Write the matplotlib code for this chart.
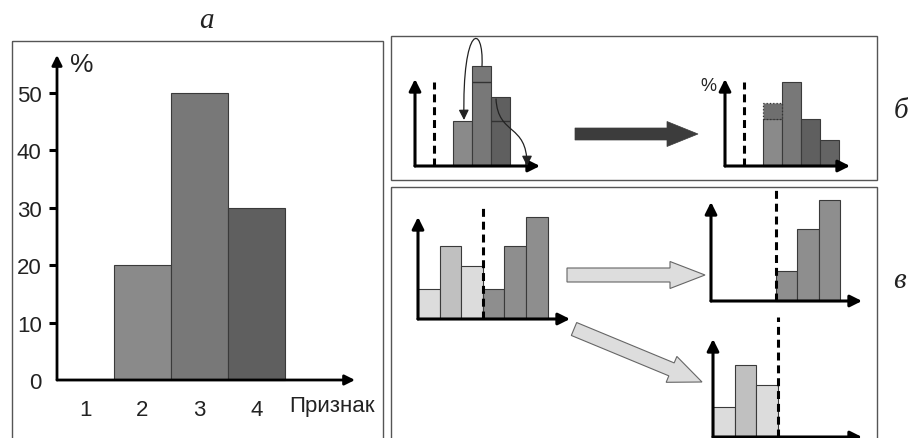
import matplotlib
matplotlib.use('Agg')
import matplotlib.pyplot as plt
import matplotlib.patches as mpatches
from matplotlib.path import Path

plt.rcParams['font.family'] = ['Liberation Sans', 'DejaVu Sans']

# panel a: feature histogram, %
a_cats = [1, 2, 3, 4]
a_vals = [0, 20, 50, 30]
a_colors = ['#8a8a8a', '#8a8a8a', '#787878', '#5f5f5f']
a_yticks = [0, 10, 20, 30, 40, 50]
a_xlabel = 'Признак'

# panel б: before / after redistribution (bins 3..5 / 3..6)
b_pos_before = [2.5, 3.5, 4.5]
b_before = [4.5, 10.0, 6.9]
b_marks = [8.4, 4.5]           # inner lines on bins 2 and 3
b_colors_before = ['#8a8a8a', '#787878', '#5f5f5f']
b_pos_after = [2.5, 3.5, 4.5, 5.5]
b_after = [4.7, 8.4, 4.7, 2.6]
b_moved = 1.6                  # part moved onto first bin
b_colors_after = ['#8a8a8a', '#787878', '#5f5f5f', '#646464']

# panel в: split by threshold
v_pos = [0.5, 1.5, 2.5, 3.5, 4.5, 5.5]
v_all = [3.0, 7.3, 5.3, 3.0, 7.3, 10.2]
v_colors = ['#dcdcdc', '#c0c0c0', '#dcdcdc', '#8e8e8e', '#8e8e8e', '#8e8e8e']
v_hi_pos = [3.5, 4.5, 5.5]
v_hi = [3.0, 7.2, 10.1]
v_lo_pos = [0.5, 1.5, 2.5]
v_lo = [3.0, 7.2, 5.2]
threshold = 3.0

W, H = 908, 439
fig = plt.figure(figsize=(W / 100, H / 100), dpi=100)


def px_axes(left, top, right, bottom, zorder=1):
    ax = fig.add_axes([left / W, 1 - bottom / H, (right - left) / W, (bottom - top) / H], zorder=zorder)
    ax.patch.set_visible(False)
    return ax


def axis_arrows(ax, x0, xmax, ymax, lw=2.2, hw=0.35, hl=0.7):
    kw = dict(arrowstyle='-|>,head_width=%s,head_length=%s' % (hw, hl), lw=lw, color='k',
              shrinkA=0, shrinkB=0, mutation_scale=10)
    ax.annotate('', xy=(xmax, 0), xytext=(x0, 0), arrowprops=kw, annotation_clip=False)
    ax.annotate('', xy=(x0, ymax), xytext=(x0, 0), arrowprops=kw, annotation_clip=False)


def mini(ax, xlim, ylim):
    ax.set_xlim(*xlim)
    ax.set_ylim(*ylim)
    ax.axis('off')
    axis_arrows(ax, xlim[0], xlim[1], ylim[1])


def bars(ax, pos, vals, colors, **kw):
    bs = ax.bar(pos, vals, width=1.0, color=colors, edgecolor='#3a3a3a', linewidth=0.8, **kw)
    for b in bs:
        b.set_clip_on(False)
    return bs


dash = (0, (2.6, 1.6))

# overlay in pixel coordinates for frames, labels and block arrows
ov = fig.add_axes([0, 0, 1, 1], zorder=0)
ov.set_xlim(0, W)
ov.set_ylim(H, 0)
ov.axis('off')
for (x0, y0, x1, y1) in [(12, 42, 383, 445), (391, 37, 877, 181), (391, 188, 877, 445)]:
    ov.add_patch(mpatches.Rectangle((x0, y0), x1 - x0, y1 - y0, fill=False, ec='#555555', lw=1))
lab = dict(ha='center', va='center', fontsize=21, family='Liberation Serif', style='italic', color='#222222')
ov.text(206, 21, 'a', **lab)
ov.text(901, 111, 'б', **lab)
ov.text(899, 281, 'в', **lab)

# ---- panel a
ax = px_axes(57, 56, 355, 381)
ax.set_xlim(0.5, 5.73)
ax.set_ylim(0, 56.6)
bars(ax, a_cats, a_vals, a_colors)
for s in ax.spines.values():
    s.set_visible(False)
axis_arrows(ax, 0.5, 5.73, 56.6, lw=2.0, hw=0.3, hl=0.6)
ax.set_yticks(a_yticks)
ax.set_yticklabels([str(t) for t in a_yticks], fontsize=16, color='#222222')
ax.tick_params(axis='y', length=6, width=2.2, pad=5)
ax.yaxis.get_major_ticks()[0].tick1line.set_visible(False)
ax.set_xticks(a_cats)
ax.set_xticklabels([str(c) for c in a_cats], fontsize=16, color='#222222')
ax.tick_params(axis='x', length=0, pad=14)
ax.text(0.93, 55, '%', ha='center', va='center', fontsize=19, color='#222222')
ax.text(4.57, -4.4, a_xlabel, ha='left', va='center', fontsize=16, color='#222222')

# ---- panel б, before
ax = px_axes(415, 80, 540, 167, zorder=2)
mini(ax, (0, 6.58), (0, 8.7))
bars(ax, b_pos_before, b_before, b_colors_before)
ax.hlines(b_marks, [3, 4], [4, 5], colors='#333333', lw=1)
ax.vlines(1.0, 0, 8.4, colors='k', lw=2.2, linestyles=dash)

# ---- panel б, after
ax = px_axes(725, 80, 850, 167, zorder=2)
mini(ax, (0, 6.58), (0, 8.7))
bars(ax, b_pos_after, b_after, b_colors_after)
mv = ax.bar(b_pos_after[0], b_moved, bottom=b_after[0], width=1.0, color='#6f6f6f',
            edgecolor='#333333', linewidth=0.9, linestyle=':')
ax.vlines(1.0, 0, 8.4, colors='k', lw=2.2, linestyles=dash)
ax.text(-0.9, 8.0, '%', ha='center', va='center', fontsize=13, color='#222222')

# ---- panel в, full
ax = px_axes(418, 218, 570, 320, zorder=2)
mini(ax, (0, 7.04), (0, 10.2))
bars(ax, v_pos, v_all, v_colors)
ax.vlines(threshold, 0, 11.2, colors='k', lw=2.2, linestyles=dash, clip_on=False)

# ---- panel в, above threshold
ax = px_axes(711, 203, 862, 302, zorder=2)
mini(ax, (0, 7.02), (0, 9.9))
bars(ax, v_hi_pos, v_hi, v_colors[3:])
ax.vlines(threshold, 0, 11.4, colors='k', lw=2.2, linestyles=dash, clip_on=False)

# ---- panel в, below threshold
ax = px_axes(713, 340, 862, 438, zorder=2)
mini(ax, (0, 6.93), (0, 9.8))
bars(ax, v_lo_pos, v_lo, v_colors[:3])
ax.vlines(threshold, 0, 12.0, colors='k', lw=2.2, linestyles=dash, clip_on=False)

# front overlay: curved arrows and block arrows
fr = fig.add_axes([0, 0, 1, 1], zorder=5)
fr.set_xlim(0, W)
fr.set_ylim(H, 0)
fr.axis('off')
p1 = Path([(482, 67), (484, 24), (462, 24), (464, 121)],
          [Path.MOVETO, Path.CURVE4, Path.CURVE4, Path.CURVE4])
p2 = Path([(496, 100), (498, 137), (527, 124), (527, 167)],
          [Path.MOVETO, Path.CURVE4, Path.CURVE4, Path.CURVE4])
for p in (p1, p2):
    fr.add_patch(mpatches.FancyArrowPatch(path=p, arrowstyle='-|>,head_width=3,head_length=6',
                                          lw=0.9, color='#222222'))
fr.add_patch(mpatches.FancyArrow(575, 135, 123, 0, width=12, head_width=25, head_length=31,
                                 length_includes_head=True, fc='#3c3c3c', ec='#3c3c3c', lw=0.5))
fr.add_patch(mpatches.FancyArrow(567, 276, 138, 0, width=14, head_width=27, head_length=35,
                                 length_includes_head=True, fc='#dddddd', ec='#666666', lw=0.8))
fr.add_patch(mpatches.FancyArrow(574, 330, 128, 53, width=14, head_width=28, head_length=33,
                                 length_includes_head=True, fc='#dddddd', ec='#666666', lw=0.8))

fig.savefig('out.png', dpi=100)
